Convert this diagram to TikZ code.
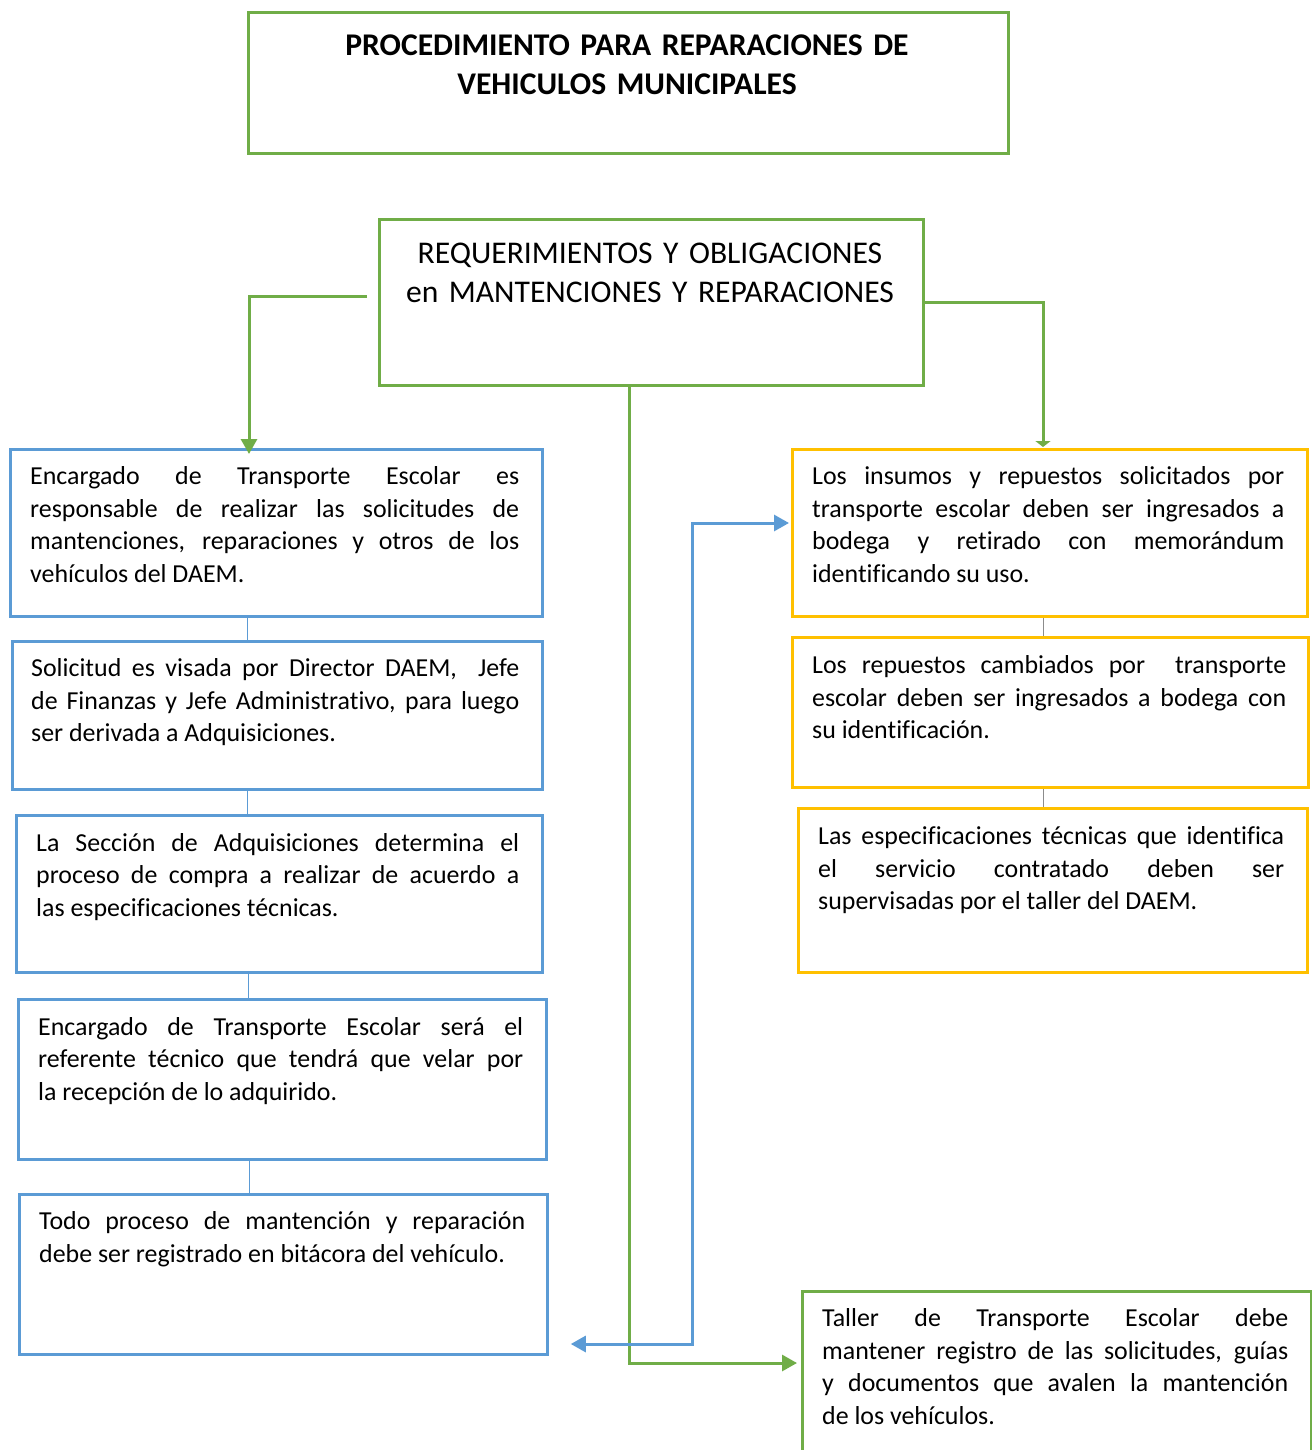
\documentclass[tikz,border=0pt]{standalone}
\usepackage{fontspec}
\setmainfont{Carlito}[Ligatures=NoCommon]
\usetikzlibrary{arrows.meta,calc}
\definecolor{gr}{HTML}{70AD47}
\definecolor{bl}{HTML}{5B9BD5}
\definecolor{yl}{HTML}{FFC000}
\tolerance=10000\relax
\hyphenpenalty=10000\relax
\newcommand\bodyfont{\fontsize{25.9}{32.7}\selectfont}
\newcommand\headfont{\fontsize{31.6}{39}\selectfont}
\tikzset{
  box/.style={rectangle, line width=2.8pt, inner sep=0pt, anchor=north west},
  greenbox/.style={box, draw=gr},
  bluebox/.style={box, draw=bl},
  yellowbox/.style={box, draw=yl},
  body/.style={inner sep=0pt, anchor=base west, text=black, align=justify, font=\bodyfont},
  headtext/.style={inner sep=0pt, anchor=base, align=center, text=black},
  gline/.style={draw=gr, line width=3pt},
  bline/.style={draw=bl, line width=3pt},
  link/.style={line width=1pt},
  tipg/.style={-{Triangle[length=15pt,width=16pt]}},
}
\begin{document}
\begin{tikzpicture}[x=1pt,y=-1pt]
\useasboundingbox[fill=white] (0,0) rectangle (1311,1450);

% headings
\node[greenbox, minimum width=760pt, minimum height=141pt] (title) at (247,11) {};
\node[headtext, text width=740pt, font=\headfont\bfseries] (titletxt) at (627,55.3)
  {PROCEDIMIENTO PARA REPARACIONES DE\\VEHICULOS MUNICIPALES};
\node[greenbox, minimum width=544pt, minimum height=166pt] (req) at (378,218) {};
\node[headtext, text width=530pt, font=\headfont] (reqtxt) at (650,263.5)
  {REQUERIMIENTOS Y OBLIGACIONES\\en MANTENCIONES Y REPARACIONES};

% left column
\node[bluebox, minimum width=532pt, minimum height=167pt] (b1) at (9,448) {};
\node[body, text width=489pt] (b1t) at (30,484.5)
  {Encargado de Transporte Escolar es\linebreak responsable de realizar las solicitudes de\linebreak mantenciones, reparaciones y otros de los\linebreak vehículos del DAEM.};
\node[bluebox, minimum width=530pt, minimum height=148pt] (b2) at (11,640) {};
\node[body, text width=488pt] (b2t) at (31,676.5)
  {Solicitud es visada por Director DAEM,\ \ Jefe\linebreak de Finanzas y Jefe Administrativo, para luego\linebreak ser derivada a Adquisiciones.};
\node[bluebox, minimum width=526pt, minimum height=157pt] (b3) at (15,814) {};
\node[body, text width=483pt] (b3t) at (36,851)
  {La Sección de Adquisiciones determina el\linebreak proceso de compra a realizar de acuerdo a\linebreak las especificaciones técnicas.};
\node[bluebox, minimum width=528pt, minimum height=160pt] (b4) at (17,998) {};
\node[body, text width=485pt] (b4t) at (38,1035)
  {Encargado de Transporte Escolar será el\linebreak referente técnico que tendrá que velar por\linebreak la recepción de lo adquirido.};
\node[bluebox, minimum width=528pt, minimum height=160pt] (b5) at (18,1193) {};
\node[body, text width=486pt] (b5t) at (39,1229.5)
  {Todo proceso de mantención y reparación\linebreak debe ser registrado en bitácora del vehículo.};

% right column
\node[yellowbox, minimum width=515pt, minimum height=167pt] (r1) at (791,448) {};
\node[body, text width=472pt] (r1t) at (812,484.5)
  {Los insumos y repuestos solicitados por\linebreak transporte escolar deben ser ingresados a\linebreak bodega y retirado con memorándum\linebreak identificando su uso.};
\node[yellowbox, minimum width=516pt, minimum height=150pt] (r2) at (791,636) {};
\node[body, text width=474pt] (r2t) at (812,673.5)
  {Los repuestos cambiados por\ \ transporte\linebreak escolar deben ser ingresados a bodega con\linebreak su identificación.};
\node[yellowbox, minimum width=509pt, minimum height=164pt] (r3) at (797,807) {};
\node[body, text width=466pt] (r3t) at (818,844.5)
  {Las especificaciones técnicas que identifica\linebreak el servicio contratado deben ser\linebreak supervisadas por el taller del DAEM.};
\node[greenbox, minimum width=509pt, minimum height=175pt] (r4) at (801,1290) {};
\node[body, text width=466pt] (r4t) at (822,1326.5)
  {Taller de Transporte Escolar debe\linebreak mantener registro de las solicitudes, guías\linebreak y documentos que avalen la mantención\linebreak de los vehículos.};

% thin links between stacked boxes
\draw[link, bl] ($(b1.south west)+(238,0)$) coordinate (l1) -- (l1 |- b2.north);
\draw[link, bl] ($(b2.south west)+(236,0)$) coordinate (l2) -- (l2 |- b3.north);
\draw[link, bl] ($(b3.south west)+(233,0)$) coordinate (l3) -- (l3 |- b4.north);
\draw[link, bl] ($(b4.south west)+(232,0)$) coordinate (l4) -- (l4 |- b5.north);
\draw[link, black!45] ($(r1.south west)+(252,0)$) coordinate (m1) -- (m1 |- r2.north);
\draw[link, black!45] ($(r2.south west)+(252,0)$) coordinate (m2) -- (m2 |- r3.north);

% green connectors from the requirements box
\coordinate (lstart) at ($(req.west)+(-11,-6)$);
\draw[gline, tipg] (lstart) -| ($(b1.north west)+(240,6)$);
\draw[gline, -{Triangle[length=6pt,width=15pt]}] (req.east) -| ($(r1.north west)+(252,-1)$);
\draw[gline, tipg] ($(req.south west)+(251,0)$) |- ($(r4.north west)+(-4,73)$);

% blue two-way connector
\coordinate (bl1) at ($(b5.north east)+(22,151)$);
\coordinate (br1) at ($(r1.north west)+(-2,75)$);
\draw[bline, {Triangle[length=15pt,width=16pt]}-{Triangle[length=15pt,width=16pt]}]
  (bl1) -- ++(122,0) |- (br1);
\end{tikzpicture}
\end{document}
